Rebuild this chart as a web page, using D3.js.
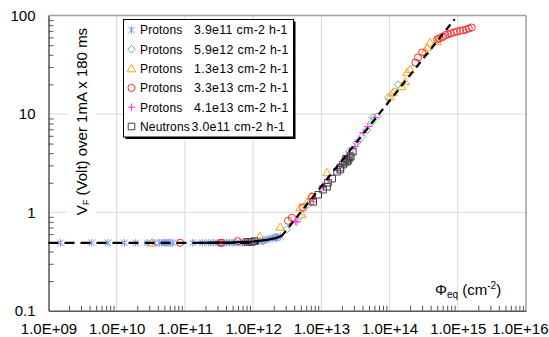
<!DOCTYPE html>
<html><head><meta charset="utf-8">
<script src="https://cdn.jsdelivr.net/npm/d3@7"></script>
<style>
html,body{margin:0;padding:0;background:#fff;}
svg{display:block;font-family:Arial,"Liberation Sans",sans-serif;}
</style></head>
<body>
<svg id="chart" width="549" height="337"></svg>
<script>
// ---------- data ----------
const xTickLabels = ["1.0E+09","1.0E+10","1.0E+11","1.0E+12","1.0E+13","1.0E+14","1.0E+15","1.0E+16"];
const xTickValues = [1e9,1e10,1e11,1e12,1e13,1e14,1e15,1e16];
const yTickLabels = ["0.1","1","10","100"];
const yTickValues = [0.1,1,10,100];

const seriesNames = ["Protons","Protons","Protons","Protons","Protons","Neutrons"];
const seriesRates = ["3.9e11 cm-2 h-1","5.9e12 cm-2 h-1","1.3e13 cm-2 h-1","3.3e13 cm-2 h-1","4.1e13 cm-2 h-1","3.0e11 cm-2 h-1"];

const p39e11_x = [1.5e9,4.3e9,7.4e9,1.3e10,1.9e10,2.8e10,3.6e10,4.2e10,4.6e10,5.0e10,5.3e10,5.7e10,6.1e10,6.7e10,1.3e11,1.8e11,2.2e11,2.6e11,3.1e11,3.5e11,4.1e11,4.5e11,4.9e11,5.6e11,6.4e11,7.0e11,7.6e11,9.0e11,1.07e12,1.26e12,1.4e12,1.5e12,1.6e12,1.77e12,1.9e12,2.1e12,2.2e12,2.3e12,2.5e12];
const p39e11_y = [0.49,0.49,0.49,0.49,0.49,0.49,0.49,0.49,0.49,0.49,0.49,0.49,0.49,0.49,0.49,0.49,0.49,0.49,0.49,0.49,0.49,0.49,0.49,0.49,0.49,0.49,0.50,0.50,0.50,0.51,0.52,0.52,0.53,0.54,0.545,0.55,0.55,0.56,0.57];

const p59e12_x = [1.4e12,2.1e12,3.1e12,4.9e12,6.4e12,2.6e13,3.3e13,3.95e13,4.7e13,5.5e13,5.7e13,6.6e13,9.5e13,1.2e14,1.33e14];
const p59e12_y = [0.51,0.56,0.67,0.91,1.20,4.2,5.1,5.9,6.9,8.2,9.2,9.4,14.7,16.9,19.9];

const p13e13_x = [3.3e10,1.26e12,2.5e12,4.9e12,5.2e12,6.2e12,7.2e12,1.21e13,1.02e14,1.12e14,1.5e14,1.7e14,1.8e14,2.0e14,3.3e14,3.55e14,3.9e14,5.0e14,5.5e14];
const p13e13_y = [0.49,0.57,0.71,1.12,0.95,1.28,1.45,2.54,15.0,16.5,19.0,21.4,26.4,28.3,43.2,47.4,53.2,54.6,59.9];

const p33e13_x = [8.5e10,3.3e11,3.5e11,5.9e11,7.6e11,9.0e11,3.25e12,3.7e12,5.4e12,7.3e12,2.4e14,2.6e14,3.0e14,5.0e14,5.3e14,6.1e14,6.6e14,7.2e14,7.9e14,8.8e14,9.7e14,1.08e15,1.2e15,1.32e15,1.45e15,1.6e15];
const p33e13_y = [0.49,0.49,0.49,0.51,0.50,0.50,0.82,0.88,1.12,1.44,33.3,37.5,42.2,57.2,58.5,61.0,63.5,64.5,66.0,67.5,69.0,70.0,71.0,72.0,74.0,75.7];

const p41e13_x = [4.2e12,4.4e12,7.6e12,1.06e13,1.06e13,1.25e13,1.7e13,2.0e13,2.4e13,2.6e13,3.1e13,3.45e13,4.1e13,4.8e13,6.1e13];
const p41e13_y = [0.81,0.80,1.28,1.78,1.87,2.15,2.7,3.1,3.6,4.05,4.66,5.24,6.47,7.45,9.19];

const n30e11_x = [8.4e11,9.5e11,1.05e12,7.6e12,9.0e12,1.06e13,1.21e13,1.25e13,1.44e13,1.7e13,1.9e13,1.9e13,2.08e13,2.2e13,2.3e13,2.4e13,2.5e13,2.6e13,2.7e13,2.9e13];
const n30e11_y = [0.50,0.50,0.51,1.28,1.51,1.70,1.82,2.0,2.2,2.59,2.72,2.85,3.06,3.2,3.5,3.28,3.4,3.6,3.7,4.14];

// fitted lines
const fitSolid_x = [1.5e11,5e11,1e12,1.6e12,2.2e12,2.6e12];
const fitSolid_y = [0.49,0.495,0.505,0.525,0.55,0.575];
const fitFlat_x = [1e9,1.2e12];
const fitFlat_y = [0.49,0.49];
const fitRise_x = [2.6e12,9e14];
const fitRise_y = [0.57,92];

// ---------- drawing ----------
const svg = d3.select("#chart");
const L = 48.5, R = 526, T = 15.6, B = 310.7;
const x = d3.scaleLog().domain([1e9,1e16]).range([L,R]);
const y = d3.scaleLog().domain([0.1,100]).range([B,T]);

svg.append("rect").attr("width",549).attr("height",337).attr("fill","#fff");

// gridlines
const grid = svg.append("g");
xTickValues.slice(1,-1).forEach(v=>{
  grid.append("line").attr("x1",x(v)).attr("x2",x(v)).attr("y1",T).attr("y2",B)
    .attr("stroke","#d9d9d9").attr("stroke-width",1);
});
yTickValues.slice(1,-1).forEach(v=>{
  grid.append("line").attr("x1",L).attr("x2",R).attr("y1",y(v)).attr("y2",y(v))
    .attr("stroke","#d9d9d9").attr("stroke-width",1);
});

// frame top/right
svg.append("line").attr("x1",L).attr("x2",R).attr("y1",T).attr("y2",T).attr("stroke","#a0a0a0").attr("stroke-width",1.5);
svg.append("line").attr("x1",R).attr("x2",R).attr("y1",T).attr("y2",B).attr("stroke","#a0a0a0").attr("stroke-width",1.5);

// axes via d3 axis generators
const minorX = [];
for (let e=9;e<16;e++) for (let m=2;m<=9;m++) minorX.push(m*Math.pow(10,e));
const minorY = [];
for (let e=-1;e<2;e++) for (let m=2;m<=9;m++) minorY.push(m*Math.pow(10,e));

const xAxisMinor = d3.axisTop(x).tickValues(minorX).tickSize(5).tickFormat("");
const xAxisMajor = d3.axisBottom(x).tickValues(xTickValues).tickSize(0).tickPadding(12)
  .tickFormat((d,i)=>xTickLabels[i]);
const gxm = svg.append("g").attr("transform",`translate(0,${B})`).call(xAxisMinor);
gxm.select(".domain").remove();
gxm.selectAll("line").attr("stroke","#555");
const gx = svg.append("g").attr("transform",`translate(0,${B})`).call(xAxisMajor);
gx.select(".domain").attr("stroke","#555").attr("stroke-width",1.5);
gx.selectAll("text").attr("font-size","15px").attr("fill","#000").attr("dy","0.71em").attr("y",12.5);
// keep the last label inside the page
gx.selectAll("text").filter((d)=>d===1e16).attr("text-anchor","end").attr("x",548 - x(1e16));

const yAxisMinor = d3.axisRight(y).tickValues(minorY).tickSize(5).tickFormat("");
const yAxisMajor = d3.axisLeft(y).tickValues(yTickValues).tickSize(0).tickPadding(13)
  .tickFormat((d,i)=>yTickLabels[i]);
const gym = svg.append("g").attr("transform",`translate(${L},0)`).call(yAxisMinor);
gym.select(".domain").remove();
gym.selectAll("line").attr("stroke","#555");
const gy = svg.append("g").attr("transform",`translate(${L},0)`).call(yAxisMajor);
gy.select(".domain").attr("stroke","#555").attr("stroke-width",1.5);
gy.selectAll("text").attr("font-size","15px").attr("fill","#000");

// y axis title with white background
svg.append("rect").attr("x",67).attr("y",20).attr("width",29).attr("height",204).attr("fill","#fff");
const yt = svg.append("text").attr("transform","translate(87,121.5) rotate(-90)")
  .attr("text-anchor","middle").attr("font-size","15px").attr("fill","#000");
yt.append("tspan").text("V");
yt.append("tspan").attr("font-size","9px").attr("dy","2").text("F");
yt.append("tspan").attr("dy","-2").text(" (Volt) over 1mA x 180 ms");

// x axis title
const xt = svg.append("text").attr("x",435).attr("y",295).attr("font-size","15px").attr("fill","#000");
xt.append("tspan").text("Φ");
xt.append("tspan").attr("font-size","10px").attr("dy","3").text("eq");
xt.append("tspan").attr("dy","-3").text(" (cm");
xt.append("tspan").attr("font-size","10px").attr("dy","-6").text("-2");
xt.append("tspan").attr("dy","6").text(")");

// markers
const shapes = {
  asterisk: "M-3.2,-3.2L3.2,3.2M-3.2,3.2L3.2,-3.2M0,-3.8V3.8",
  diamond: "M0,-3.8L3.8,0L0,3.8L-3.8,0Z",
  triangle: "M0,-4.2L4.3,3.2L-4.3,3.2Z",
  circle: d3.symbol(d3.symbolCircle, 40)(),
  plus: "M-3.8,0H3.8M0,-3.8V3.8",
  square: "M-3.3,-3.3H3.3V3.3H-3.3Z"
};
const seriesX = [p39e11_x,p59e12_x,p13e13_x,p33e13_x,p41e13_x,n30e11_x];
const seriesY = [p39e11_y,p59e12_y,p13e13_y,p33e13_y,p41e13_y,n30e11_y];
const seriesShape = ["asterisk","diamond","triangle","circle","plus","square"];
const seriesColor = ["#6f92ff","#5cbf8c","#ffa31a","#ff2a2a","#ff2bff","#404040"];

const marks = svg.append("g");
seriesX.forEach((xs,si)=>{
  const pts = xs.map((v,i)=>[v,seriesY[si][i]]);
  marks.append("g").selectAll("path").data(pts).join("path")
    .attr("transform",d=>`translate(${x(d[0])},${y(d[1])})`)
    .attr("d",shapes[seriesShape[si]])
    .attr("fill","none").attr("stroke",seriesColor[si]).attr("stroke-width",1);
});

// fit lines
const line = d3.line().x(d=>x(d[0])).y(d=>y(d[1]));
const zip = (a,b)=>a.map((v,i)=>[v,b[i]]);
svg.append("path").attr("d",line(zip(fitFlat_x,fitFlat_y))).attr("fill","none")
  .attr("stroke","#000").attr("stroke-width",2.2).attr("stroke-dasharray","10,6");
svg.append("path").attr("d",line(zip(fitSolid_x,fitSolid_y))).attr("fill","none")
  .attr("stroke","#000").attr("stroke-width",2.2);
svg.append("path").attr("d",line(zip(fitRise_x,fitRise_y))).attr("fill","none")
  .attr("stroke","#000").attr("stroke-width",2.2).attr("stroke-dasharray","7,5");

// legend
const lg = svg.append("g");
lg.append("rect").attr("x",125.5).attr("y",21.5).attr("width",170).attr("height",117.5).attr("fill","#000");
lg.append("rect").attr("x",123.5).attr("y",19.5).attr("width",170).attr("height",117.5)
  .attr("fill","#fff").attr("stroke","#000").attr("stroke-width",1);
seriesNames.forEach((n,i)=>{
  const yy = 30 + i*19.3;
  lg.append("path").attr("transform",`translate(131.5,${yy})`).attr("d",shapes[seriesShape[i]])
    .attr("fill","none").attr("stroke",seriesColor[i]).attr("stroke-width",1);
  lg.append("text").attr("x",140).attr("y",yy).attr("dy","0.36em").attr("font-size","12px")
    .attr("letter-spacing","0.15px").text(n);
  lg.append("text").attr("x",i===5?191.5:194).attr("y",yy).attr("dy","0.36em").attr("font-size","12.4px")
    .attr("letter-spacing","0.3px").text(seriesRates[i]);
});
</script>
</body></html>
